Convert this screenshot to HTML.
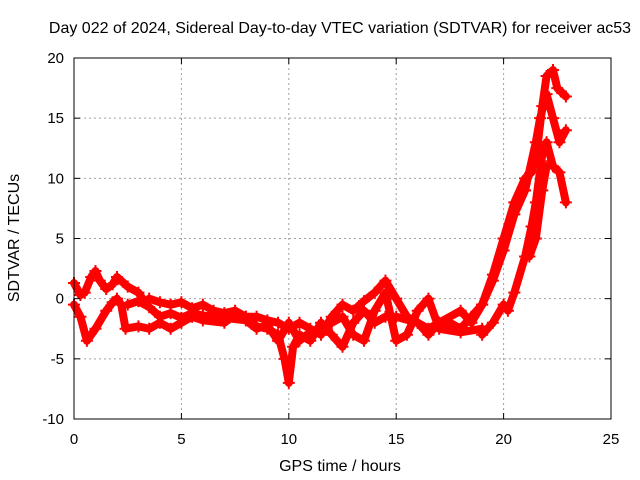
<!DOCTYPE html>
<html><head><meta charset="utf-8"><style>
body{margin:0;background:#fff}
svg{display:block;font-family:"Liberation Sans",sans-serif}
</style></head><body>
<svg id="chart" width="640" height="480">
<text x="340" y="33" font-size="16" text-anchor="middle">Day 022 of 2024, Sidereal Day-to-day VTEC variation (SDTVAR) for receiver ac53</text>
<text x="340" y="471" font-size="16" text-anchor="middle">GPS time / hours</text>
<text transform="translate(19,238) rotate(-90)" font-size="16" text-anchor="middle">SDTVAR / TECUs</text>
<g id="grid"></g><g id="series"></g><g id="axes"></g>
</svg>
<script>
const xTicks=[0,5,10,15,20,25];
const yTicks=[-10,-5,0,5,10,15,20];
const traceA=[[0,1.3],[0.3,0.3],[0.5,0.5],[0.8,1.8],[1,2.3],[1.2,1.5],[1.5,0.8],[1.8,1.2],[2,1.8],[2.5,1],[3,0.5],[3.3,-0.3],[3.5,0],[4,-0.3],[4.5,-0.5],[5,-0.3],[5.5,-0.8],[6,-0.5],[6.5,-1],[7,-1.2],[7.5,-1],[8,-1.5],[8.5,-1.5],[9,-1.8],[9.5,-2],[10,-2.5],[10.5,-2],[11,-2.5],[11.5,-3],[12,-1.5],[12.5,-0.5],[13,-1],[13.5,-0.2],[14,0.5],[14.5,1.5],[15,0],[15.5,-1.5],[16,-2],[16.5,-2.5],[17,-2],[17.5,-2],[18,-2.5],[18.5,-1.5],[19,-0.5],[19.5,1.5],[20,4],[20.5,7],[21,9],[21.5,13],[21.7,15],[22,17],[22.3,15],[22.6,13],[22.9,14]];
const traceB=[[0,-0.5],[0.3,-1.5],[0.6,-3.5],[1,-2.5],[1.5,-1],[1.8,-0.3],[2,0],[2.2,-0.5],[2.4,-2.5],[3,-2.3],[3.5,-2.5],[4,-2],[4.5,-2.5],[5,-2],[5.5,-1.5],[6,-1.8],[7,-2],[7.5,-1.3],[8,-1.5],[8.5,-2.3],[9,-2.5],[9.5,-3],[9.8,-5],[10,-7],[10.2,-4],[10.5,-3],[11,-3.5],[11.5,-2],[12,-3],[12.5,-4],[13,-2],[13.5,-1],[14,-2],[14.5,-1.5],[15,-1.5],[16,-2],[16.5,-3],[17,-2],[18,-1],[18.5,-2],[19,-0.5],[19.5,2],[20,5],[20.5,8],[21,10],[21.3,10.5],[21.6,13],[21.8,16],[22,18.5],[22.3,19],[22.5,17.5],[22.9,16.8]];
const traceC=[[19,-3],[19.5,-2],[20,-0.5],[20.2,-1],[20.5,0.5],[21,3.5],[21.3,6],[21.5,8],[21.8,12],[22,13],[22.3,11],[22.6,10.5],[22.9,8]];
const traceD=[[11,-3],[12,-2],[12.5,-1.5],[13,-3],[13.5,-3.5],[14,-1],[14.5,0.5],[15,-3.5],[15.5,-3],[16,-1],[16.5,0],[17,-2.5],[18,-2.8],[19,-2.5]];
const traceE=[[21.2,3.5],[21.5,5],[21.8,9],[22,11]];
const traceF=[[2.5,-0.5],[3,-0.2],[3.5,-0.7],[4,-1.5],[4.5,-1.2],[5,-1.6],[5.5,-1.2],[6,-1.4],[7,-1.6],[8,-1.8],[8.5,-2.5],[9,-2.2],[9.5,-3.5],[10,-2],[10.5,-3.5],[11,-2.8]];
const traces=[traceA,traceB,traceC,traceD,traceE,traceF];
const L=74,R=611,T=58,B=419,xMin=0,xMax=25,yMin=-10,yMax=20;
const sx=v=>L+(v-xMin)/(xMax-xMin)*(R-L);
const sy=v=>B-(v-yMin)/(yMax-yMin)*(B-T);
const NS="http://www.w3.org/2000/svg";
function mk(p,tag,at){const e=document.createElementNS(NS,tag);for(const k in at)e.setAttribute(k,at[k]);p.appendChild(e);return e;}
const grid=document.getElementById('grid'),axes=document.getElementById('axes'),ser=document.getElementById('series');
xTicks.forEach(t=>{
 if(t>xMin&&t<xMax){const g=mk(grid,'line',{x1:sx(t),x2:sx(t),y1:T,y2:B,stroke:'#a0a0a0','stroke-dasharray':'2,3'});
 
 }
 mk(axes,'line',{x1:sx(t),x2:sx(t),y1:B,y2:B-6,stroke:'#000'});
 mk(axes,'line',{x1:sx(t),x2:sx(t),y1:T,y2:T+6,stroke:'#000'});
 const tx=mk(axes,'text',{x:sx(t),y:B+25,'font-size':15,'text-anchor':'middle'});tx.textContent=t;
 
 
});
yTicks.forEach(t=>{
 if(t>yMin&&t<yMax){const g=mk(grid,'line',{x1:L,x2:R,y1:sy(t),y2:sy(t),stroke:'#a0a0a0','stroke-dasharray':'2,3'});
 
 }
 mk(axes,'line',{x1:L,x2:L+6,y1:sy(t),y2:sy(t),stroke:'#000'});
 mk(axes,'line',{x1:R,x2:R-6,y1:sy(t),y2:sy(t),stroke:'#000'});
 const tx=mk(axes,'text',{x:L-10,y:sy(t)+5,'font-size':15,'text-anchor':'end'});tx.textContent=t;
 
 
});
const fr=mk(axes,'rect',{x:L,y:T,width:R-L,height:B-T,fill:'none',stroke:'#000'});


traces.forEach((tr,i)=>{
 const pl=mk(ser,'polyline',{points:tr.map(p=>sx(p[0])+','+sy(p[1])).join(' '),fill:'none',stroke:'#ff0000','stroke-width':8,'stroke-linejoin':'round','stroke-linecap':'round'});
 
 
 tr.forEach(p=>{
  const m=mk(ser,'path',{d:`M${sx(p[0])-6},${sy(p[1])}h12M${sx(p[0])},${sy(p[1])-6}v12`,stroke:'#ff0000','stroke-width':2});
  
  
 });
});
</script>
</body></html>
